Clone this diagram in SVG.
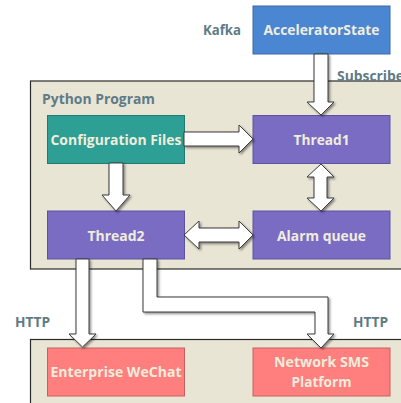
<svg xmlns="http://www.w3.org/2000/svg" width="401" height="403" viewBox="0 0 401 403">
<defs>
<filter id="sh" x="-20%" y="-20%" width="150%" height="150%">
<feDropShadow dx="1.5" dy="1.5" stdDeviation="1.2" flood-color="#000" flood-opacity="0.45"/>
</filter>
<style>
.cont{fill:#E8E5D5;stroke:#2b2b2b;stroke-width:1.2}
.n{stroke-width:1}
.nt{font-family:"Open Sans","Liberation Sans",Arial,sans-serif;font-weight:bold;font-size:13.5px;fill:#F0EDDC;text-anchor:middle}
.lb{font-family:"Open Sans","Liberation Sans",Arial,sans-serif;font-weight:bold;font-size:13.5px;fill:#5F7B86}
.ar{fill:#fff;stroke:#3a3a3a;stroke-width:1;stroke-linejoin:miter;filter:url(#sh)}
</style>
</defs>
<rect width="401" height="403" fill="#fff"/>
<g id="python-program">
<rect class="cont" x="30.5" y="81" width="380" height="188"/>
<text class="lb" x="42" y="104" textLength="113" lengthAdjust="spacingAndGlyphs">Python Program</text>
</g>
<g id="external">
<rect class="cont" x="30.5" y="339.5" width="380" height="80"/>
</g>
<g id="kafka-label"><text class="lb" x="203" y="35" textLength="38" lengthAdjust="spacingAndGlyphs">Kafka</text></g>
<g id="accelerator-state">
<rect class="n" x="253" y="6" width="137" height="48" fill="#4A86D1" stroke="#3A6AA8"/>
<text class="nt" x="321.5" y="35" textLength="116" lengthAdjust="spacingAndGlyphs">AcceleratorState</text>
</g>
<g id="config-files">
<rect class="n" x="47.5" y="115.5" width="137" height="48" fill="#2E9F94" stroke="#227A72"/>
<text class="nt" x="116" y="145" textLength="131" lengthAdjust="spacingAndGlyphs">Configuration Files</text>
</g>
<g id="thread1">
<rect class="n" x="253" y="115.5" width="137" height="48" fill="#7A6CC3" stroke="#5E52A0"/>
<text class="nt" x="321.5" y="145" textLength="56" lengthAdjust="spacingAndGlyphs">Thread1</text>
</g>
<g id="thread2">
<rect class="n" x="47.5" y="211" width="137" height="48" fill="#7A6CC3" stroke="#5E52A0"/>
<text class="nt" x="116" y="241" textLength="57" lengthAdjust="spacingAndGlyphs">Thread2</text>
</g>
<g id="alarm-queue">
<rect class="n" x="253" y="211" width="137" height="48" fill="#7A6CC3" stroke="#5E52A0"/>
<text class="nt" x="321.5" y="241" textLength="89" lengthAdjust="spacingAndGlyphs">Alarm queue</text>
</g>
<g id="enterprise-wechat">
<rect class="n" x="47.5" y="348" width="137" height="48" fill="#FF7F7E" stroke="#C86060"/>
<text class="nt" x="116" y="377" textLength="131" lengthAdjust="spacingAndGlyphs">Enterprise WeChat</text>
</g>
<g id="network-sms">
<rect class="n" x="253" y="348" width="137" height="48" fill="#FF7F7E" stroke="#C86060"/>
<text class="nt" x="321.5" y="367" textLength="95" lengthAdjust="spacingAndGlyphs">Network SMS</text>
<text class="nt" x="321.5" y="387" textLength="60" lengthAdjust="spacingAndGlyphs">Platform</text>
</g>
<g id="connectors">
<path class="ar" d="M314,54 L328,54 L328,102 L334,102 L321,115 L307,102 L314,102 Z"/>
<path class="ar" d="M184,132 L239,132 L239,125 L253,139 L239,153 L239,146 L184,146 Z"/>
<path class="ar" d="M109,163 L123,163 L123,195 L130,195 L116,211 L102,195 L109,195 Z"/>
<path class="ar" d="M321,164 L334,177 L327,177 L327,198 L334,198 L321,211 L307,198 L314,198 L314,177 L307,177 Z"/>
<path class="ar" d="M184,235 L199,221 L199,228 L239,228 L239,221 L253,235 L239,249 L239,242 L199,242 L199,249 Z"/>
<path class="ar" d="M76,259 L89,259 L89,334 L96,334 L82.5,347 L69,334 L76,334 Z"/>
<path class="ar" d="M143,259 L157,259 L157,297 L328,297 L328,334 L334,334 L321,348 L307,334 L315,334 L315,312 L143,312 Z"/>
<text class="lb" x="337" y="81" textLength="67" lengthAdjust="spacingAndGlyphs">Subscribe</text>
<text class="lb" x="15" y="327" textLength="35" lengthAdjust="spacingAndGlyphs">HTTP</text>
<text class="lb" x="353" y="327" textLength="35" lengthAdjust="spacingAndGlyphs">HTTP</text>
</g>
</svg>
